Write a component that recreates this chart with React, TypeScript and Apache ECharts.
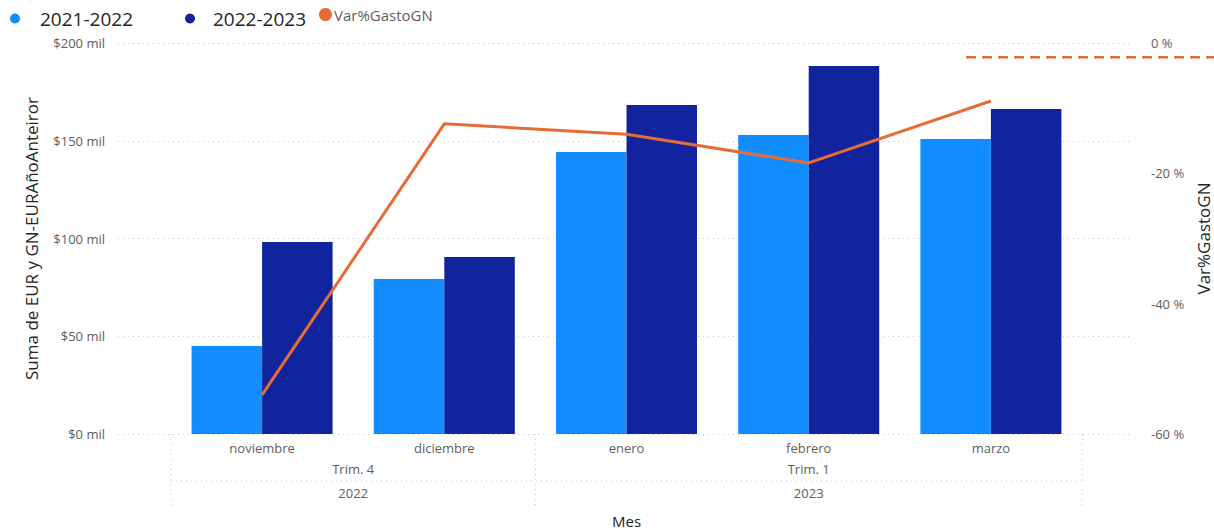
import React, { useEffect, useRef } from "react";
import * as echarts from "echarts";

const MONTHS = ["noviembre", "diciembre", "enero", "febrero", "marzo"];
const SERIES_A_NAME = "2021-2022";
const SERIES_B_NAME = "2022-2023";
const LINE_NAME = "Var%GastoGN";
const VALUES_A = [45000, 79300, 144200, 152900, 150900];
const VALUES_B = [98200, 90500, 168300, 188200, 166200];
const VAR_PCT = [-54.0, -12.4, -14.0, -18.4, -8.9];
const QUARTERS = [
  { label: "Trim. 4", start: 0, end: 2 },
  { label: "Trim. 1", start: 2, end: 5 },
];
const YEARS = [
  { label: "2022", start: 0, end: 2 },
  { label: "2023", start: 2, end: 5 },
];
const LEFT_TICKS = { min: 0, max: 200000, interval: 50000 };
const RIGHT_TICKS = { min: -60, max: 0, interval: 20 };
const TARGET_PCT = -2.2;

const FONT = '"Segoe UI", "Open Sans", sans-serif';
const GREY = "#605E5C";
const DARK = "#252423";
const GRID_COLOR = "#C8C6C4";

export default function App() {
  const ref = useRef<HTMLDivElement>(null);
  useEffect(() => {
    if (!ref.current) return;
    const chart = echarts.init(ref.current, undefined, { renderer: "svg" });
    const option: any = {
      animation: false,
      textStyle: { fontFamily: FONT },
      legend: [
        {
          data: [SERIES_A_NAME],
          left: 10,
          top: 9,
          padding: 0,
          icon: "circle",
          itemWidth: 10,
          itemHeight: 10,
          textStyle: { fontSize: 19, color: DARK, fontFamily: FONT, padding: [0, 0, 0, 15] },
        },
        {
          data: [SERIES_B_NAME],
          left: 185,
          top: 9,
          padding: 0,
          icon: "circle",
          itemWidth: 10,
          itemHeight: 10,
          textStyle: { fontSize: 19, color: DARK, fontFamily: FONT, padding: [0, 0, 0, 13] },
        },
        {
          data: [LINE_NAME],
          left: 319,
          top: 7,
          padding: 0,
          icon: "circle",
          itemWidth: 13,
          itemHeight: 13,
          textStyle: { fontSize: 15, color: GREY, fontFamily: FONT, padding: [0, 0, 0, -3] },
        },
      ],
      grid: [
        { left: 118, width: 1015, top: 43, height: 391, outerBoundsMode: "none", containLabel: false },
        { left: 171, width: 911, top: 43, height: 391, outerBoundsMode: "none", containLabel: false },
      ],
      xAxis: [
        { gridIndex: 0, type: "value", min: 0, max: 1, show: false },
        {
          gridIndex: 1,
          type: "category",
          data: MONTHS,
          axisLine: { show: false },
          axisTick: { show: false },
          axisLabel: { color: GREY, fontSize: 13, margin: 7, fontFamily: FONT },
          name: "Mes",
          nameLocation: "middle",
          nameGap: 79,
          nameTextStyle: { color: DARK, fontSize: 15, fontFamily: FONT },
        },
      ],
      yAxis: [
        {
          gridIndex: 0,
          type: "value",
          ...LEFT_TICKS,
          axisLabel: { show: false },
          axisLine: { show: false },
          axisTick: { show: false },
          splitLine: { show: true, lineStyle: { type: [1, 4], color: GRID_COLOR, width: 1 } },
        },
        {
          gridIndex: 1,
          type: "value",
          position: "left",
          ...LEFT_TICKS,
          splitLine: { show: false },
          axisLine: { show: false },
          axisTick: { show: false },
          axisLabel: {
            color: GREY,
            fontSize: 13,
            margin: 66,
            align: "right",
            fontFamily: FONT,
            formatter: (v: number) => "$" + v / 1000 + " mil",
          },
          name: "Suma de EUR y GN-EURAñoAnteiror",
          nameLocation: "middle",
          nameGap: 131,
          nameRotate: 90,
          nameTextStyle: { color: DARK, fontSize: 17, fontFamily: FONT },
        },
        {
          gridIndex: 1,
          type: "value",
          position: "right",
          ...RIGHT_TICKS,
          splitLine: { show: false },
          axisLine: { show: false },
          axisTick: { show: false },
          axisLabel: {
            color: GREY,
            fontSize: 13,
            margin: 69,
            align: "left",
            fontFamily: FONT,
            formatter: (v: number) => v + " %",
          },
          name: LINE_NAME,
          nameLocation: "middle",
          nameGap: 113,
          nameRotate: 90,
          nameTextStyle: { color: DARK, fontSize: 17, fontFamily: FONT },
        },
      ],
      series: [
        {
          name: SERIES_A_NAME,
          type: "bar",
          xAxisIndex: 1,
          yAxisIndex: 1,
          data: VALUES_A,
          itemStyle: { color: "#118DFF" },
          barGap: "0%",
          barCategoryGap: "22.6%",
        },
        {
          name: SERIES_B_NAME,
          type: "bar",
          xAxisIndex: 1,
          yAxisIndex: 1,
          data: VALUES_B,
          itemStyle: { color: "#12239E" },
          barGap: "0%",
          barCategoryGap: "22.6%",
        },
        {
          name: LINE_NAME,
          type: "line",
          xAxisIndex: 1,
          yAxisIndex: 2,
          data: VAR_PCT,
          symbol: "none",
          itemStyle: { color: "#E66C37" },
          lineStyle: { color: "#E66C37", width: 3 },
          z: 5,
        },
      ],
    };
    chart.setOption(option);

    const cx = (i: number) => chart.convertToPixel({ xAxisIndex: 1 }, MONTHS[i]) as number;
    const band = cx(1) - cx(0);
    const bnd = (i: number) => cx(0) + (i - 0.5) * band;
    const yBase = chart.convertToPixel({ yAxisIndex: 1 }, 0) as number;
    const dotted = { stroke: GRID_COLOR, lineWidth: 1, lineDash: [1, 4] };
    const graphics: any[] = [];
    const divs = new Set<number>();
    [...QUARTERS, ...YEARS].forEach((q) => {
      divs.add(q.start);
      divs.add(q.end);
    });
    divs.forEach((i) => {
      graphics.push({
        type: "line",
        shape: { x1: bnd(i), y1: yBase, x2: bnd(i), y2: yBase + 74 },
        style: dotted,
        silent: true,
      });
    });
    graphics.push({
      type: "line",
      shape: { x1: bnd(0), y1: yBase + 47, x2: bnd(MONTHS.length), y2: yBase + 47 },
      style: dotted,
      silent: true,
    });
    const addLabels = (rows: { label: string; start: number; end: number }[], dy: number) => {
      rows.forEach((q) => {
        graphics.push({
          type: "text",
          x: (bnd(q.start) + bnd(q.end)) / 2,
          y: yBase + dy,
          style: {
            text: q.label,
            fill: GREY,
            fontSize: 13,
            fontFamily: FONT,
            textAlign: "center",
            textVerticalAlign: "middle",
          },
        });
      });
    };
    addLabels(QUARTERS, 35);
    addLabels(YEARS, 59);
    const yT = chart.convertToPixel({ yAxisIndex: 2 }, TARGET_PCT) as number;
    graphics.push({
      type: "line",
      shape: { x1: 966, y1: yT, x2: 1214, y2: yT },
      style: { stroke: "#E66C37", lineWidth: 2.5, lineDash: [10, 6] },
      silent: true,
    });
    chart.setOption({ graphic: graphics });

    return () => chart.dispose();
  }, []);
  return (
    <div
      ref={ref}
      style={{ position: "fixed", left: 0, top: 0, width: 1214, height: 530, background: "#fff" }}
    />
  );
}
